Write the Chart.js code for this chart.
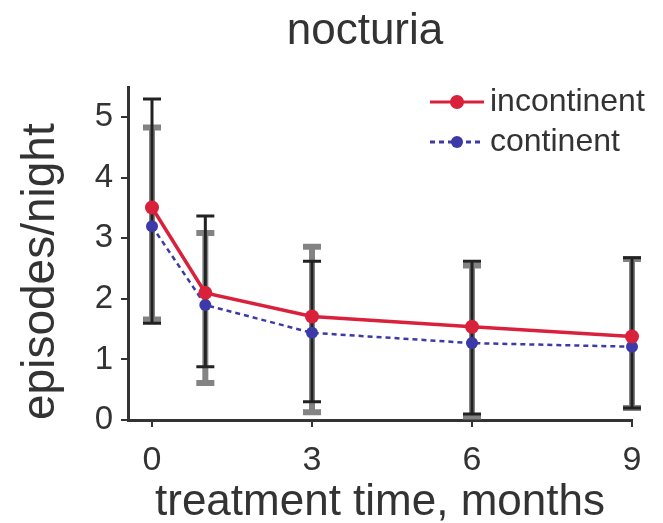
<!DOCTYPE html>
<html>
<head>
<meta charset="utf-8">
<script src="https://cdn.jsdelivr.net/npm/chart.js@4"></script>
<style>
  html, body { margin: 0; padding: 0; background: #fff; }
  #wrap { width: 663px; height: 523px; }
</style>
</head>
<body>
<div id="wrap"><canvas id="c"></canvas></div>
<script>
// values
const months = [0, 1, 3, 6, 9];
const xTicks = [0, 3, 6, 9];
const incontinent = [3.51, 2.1, 1.71, 1.54, 1.38];
const incontinentHigh = [5.3, 3.37, 2.62, 2.62, 2.68];
const incontinentLow = [1.6, 0.88, 0.3, 0.1, 0.2];
const continent = [3.2, 1.9, 1.44, 1.27, 1.21];
const continentHigh = [4.83, 3.09, 2.86, 2.55, 2.66];
const continentLow = [1.66, 0.61, 0.13, 0.05, 0.2];

const FONT = "'Liberation Sans', Arial, sans-serif";
const INK = '#333';
const RED = '#d9213c';
const BLUE = '#3b3aa8';

const toXY = (ys) => ys.map((y, i) => ({x: months[i], y: y}));

// error bars drawn under the lines, gray ones first
const errorBars = {
    id: 'errorBars',
    beforeDatasetsDraw(chart) {
        let ctx = chart.ctx;
        let xs = chart.scales.x, ys = chart.scales.y;
        let sets = [
            {hi: continentHigh, lo: continentLow, color: 'rgba(100,100,100,0.8)', w: 6},
            {hi: incontinentHigh, lo: incontinentLow, color: '#222', w: 3}
        ];
        ctx.save();
        sets.forEach(s => {
            ctx.strokeStyle = s.color;
            ctx.lineWidth = s.w;
            months.forEach((m, i) => {
                let px = xs.getPixelForValue(m);
                let top = ys.getPixelForValue(s.hi[i]);
                let bot = ys.getPixelForValue(s.lo[i]);
                ctx.beginPath();
                ctx.moveTo(px, top); ctx.lineTo(px, bot);
                ctx.moveTo(px - 9, top); ctx.lineTo(px + 9, top);
                ctx.moveTo(px - 9, bot); ctx.lineTo(px + 9, bot);
                ctx.stroke();
            });
        });
        ctx.restore();
    }
};

// title and legend inside the plot, like the original figure
const extras = {
    id: 'extras',
    afterDraw(chart) {
        let ctx = chart.ctx;
        ctx.save();
        ctx.fillStyle = INK;
        ctx.font = '44px ' + FONT;
        ctx.textAlign = 'center';
        ctx.textBaseline = 'alphabetic';
        ctx.fillText('nocturia', 365, 44);

        let rows = [
            {label: 'incontinent', color: RED, dash: [], y: 102, r: 7},
            {label: 'continent', color: BLUE, dash: [5, 4], y: 142, r: 6}
        ];
        ctx.font = '32px ' + FONT;
        ctx.textAlign = 'left';
        ctx.textBaseline = 'middle';
        rows.forEach(r => {
            ctx.strokeStyle = r.color;
            ctx.lineWidth = 3;
            ctx.setLineDash(r.dash);
            ctx.beginPath();
            ctx.moveTo(430, r.y); ctx.lineTo(484, r.y);
            ctx.stroke();
            ctx.setLineDash([]);
            ctx.fillStyle = r.color;
            ctx.beginPath();
            ctx.arc(457, r.y, r.r, 0, Math.PI * 2);
            ctx.fill();
            ctx.fillStyle = INK;
            ctx.fillText(r.label, 490, r.y);
        });
        ctx.restore();
    }
};

new Chart(document.getElementById('c'), {
    type: 'line',
    data: {
        datasets: [
            {
                label: 'incontinent',
                data: toXY(incontinent),
                borderColor: RED,
                backgroundColor: RED,
                borderWidth: 3.5,
                pointRadius: 7,
                pointBorderWidth: 0,
                tension: 0
            },
            {
                label: 'continent',
                data: toXY(continent),
                borderColor: BLUE,
                backgroundColor: BLUE,
                borderWidth: 2.5,
                borderDash: [5, 4],
                pointRadius: 6,
                pointBorderWidth: 0,
                tension: 0
            }
        ]
    },
    options: {
        responsive: true,
        maintainAspectRatio: false,
        animation: false,
        clip: false,
        layout: {padding: {top: 87, right: 31, left: 0, bottom: 0}},
        plugins: {
            legend: {display: false},
            tooltip: {enabled: false}
        },
        scales: {
            x: {
                type: 'linear',
                min: -0.45,
                max: 9,
                afterBuildTicks: (s) => { s.ticks = xTicks.map(v => ({value: v})); },
                afterFit: (s) => { s.height = 103; },
                border: {display: true, color: INK, width: 3},
                grid: {drawOnChartArea: false, drawTicks: true, tickLength: 7, color: INK, lineWidth: 2},
                ticks: {color: INK, font: {family: FONT, size: 34}, padding: 13, maxRotation: 0},
                title: {display: true, text: 'treatment time, months', color: INK,
                        font: {family: FONT, size: 44, lineHeight: 0.9}, padding: {top: 0, bottom: 0}}
            },
            y: {
                min: 0,
                max: 5.5,
                afterBuildTicks: (s) => { s.ticks = [0, 1, 2, 3, 4, 5].map(v => ({value: v})); },
                afterFit: (s) => { s.width = 128; },
                border: {display: true, color: INK, width: 3},
                grid: {drawOnChartArea: false, drawTicks: true, tickLength: 7, color: INK, lineWidth: 2},
                ticks: {color: INK, font: {family: FONT, size: 33}, padding: 8},
                title: {display: true, text: 'episodes/night', color: INK, align: 'start',
                        font: {family: FONT, size: 46}, padding: {top: 14, bottom: 0}}
            }
        }
    },
    plugins: [errorBars, extras]
});
</script>
</body>
</html>
